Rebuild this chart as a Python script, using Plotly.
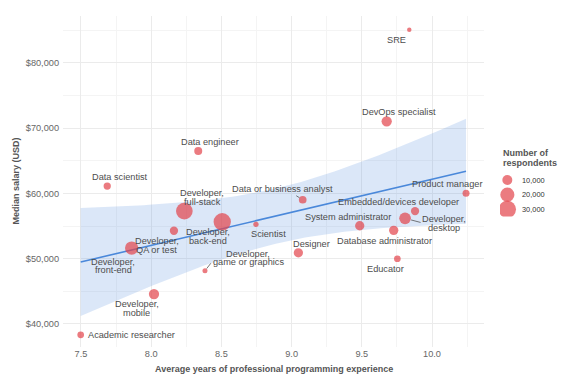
import numpy as np
import plotly.graph_objects as go

# ---------------- data ----------------
roles = ["SRE", "DevOps specialist", "Data engineer", "Data scientist",
         "Developer, full-stack", "Developer, back-end", "Developer, QA or test",
         "Developer, front-end", "Developer, game or graphics", "Developer, mobile",
         "Academic researcher", "Scientist", "Data or business analyst",
         "Product manager", "Embedded/devices developer", "Developer, desktop",
         "System administrator", "Database administrator", "Designer", "Educator"]
avg_years = [9.838, 9.677, 8.335, 7.687, 8.236, 8.506, 8.162, 7.861, 8.383, 8.020,
             7.498, 8.746, 9.079, 10.242, 9.879, 9.808, 9.485, 9.727, 9.048, 9.753]
median_salary = [85053, 71026, 66478, 61118, 57290, 55651, 54273, 51623, 48147, 44579,
                 38346, 55253, 59020, 60000, 57289, 56172, 55038, 54334, 50904, 49985]
respondents = [2000, 10600, 6400, 5300, 27900, 30000, 6900, 17700, 2500, 10600,
               4500, 2800, 5900, 4900, 6900, 13700, 8600, 8600, 8600, 4500]
legend_values = [10000, 20000, 30000]
legend_labels = ["10,000", "20,000", "30,000"]
x_ticks = [7.5, 8.0, 8.5, 9.0, 9.5, 10.0]
y_ticks = [40000, 50000, 60000, 70000, 80000]

# ---------------- label layout (pixel offsets, lines) ----------------
label_layout = {
    "SRE": (["SRE"], -12.6, -10),
    "DevOps specialist": (["DevOps specialist"], 12.3, 9.6),
    "Data engineer": (["Data engineer"], 11.7, 9.3),
    "Data scientist": (["Data scientist"], 12.7, 9.3),
    "Developer, full-stack": (["Developer,", "full-stack"], 17.7, 13.3),
    "Developer, back-end": (["Developer,", "back-end"], -14, -14.6),
    "Developer, QA or test": (["Developer,", "QA or test"], -17, -14.6),
    "Developer, front-end": (["Developer,", "front-end"], -18.4, -18),
    "Developer, game or graphics": (["Developer,", "game or graphics"], 43.5, 12.7),
    "Developer, mobile": (["Developer,", "mobile"], -17.3, -14.3),
    "Academic researcher": (["Academic researcher"], 50.8, 0),
    "Scientist": (["Scientist"], 12.3, -10),
    "Data or business analyst": (["Data or business analyst"], -19.9, 10.4),
    "Product manager": (["Product manager"], -19.3, 9.3),
    "Embedded/devices developer": (["Embedded/devices developer"], -16.7, 9),
    "Developer, desktop": (["Developer,", "desktop"], 39.3, -5),
    "System administrator": (["System administrator"], -12, 9),
    "Database administrator": (["Database administrator"], -9.4, -10.4),
    "Designer": (["Designer"], 12.7, 9),
    "Educator": (["Educator"], -12.3, -10),
}
# leader segments: (role, tail dx, tail dy (down positive), standoff)
leaders = [("Data or business analyst", -8, -5, 3.8),
           ("Developer, desktop", 17, 4.5, 6.2),
           ("Developer, game or graphics", 7, -9, 2.8)]

FONT = "Liberation Sans, Arial, Helvetica, sans-serif"
TXT = "#4d4d4d"
POINT = "#E2434A"
LINE = "#4A88DA"
SIZEREF = 200.0

x = np.array(avg_years)
y = np.array(median_salary, dtype=float)

# linear fit with 95% confidence band (as geom_smooth(method="lm"))
n = len(x)
slope, intercept = np.polyfit(x, y, 1)
resid = y - (slope * x + intercept)
s = np.sqrt(np.sum(resid ** 2) / (n - 2))
sxx = np.sum((x - x.mean()) ** 2)
t975 = 2.100922  # t quantile, df = 18
xs = np.linspace(x.min(), x.max(), 80)
fit = slope * xs + intercept
se = s * np.sqrt(1 / n + (xs - x.mean()) ** 2 / sxx)
upper = fit + t975 * se
lower = fit - t975 * se

fig = go.Figure()
fig.add_trace(go.Scatter(x=xs, y=upper, mode="lines", line=dict(width=0),
                         hoverinfo="skip", showlegend=False))
fig.add_trace(go.Scatter(x=xs, y=lower, mode="lines", line=dict(width=0),
                         fill="tonexty", fillcolor="rgba(74,136,218,0.2)",
                         hoverinfo="skip", showlegend=False))
fig.add_trace(go.Scatter(x=xs, y=fit, mode="lines", line=dict(color=LINE, width=1.6),
                         hoverinfo="skip", showlegend=False))
fig.add_trace(go.Scatter(x=avg_years, y=median_salary, mode="markers", text=roles,
                         marker=dict(size=respondents, sizemode="area", sizeref=SIZEREF,
                                     color=POINT, line=dict(width=0)),
                         showlegend=False))

# size legend drawn on its own small axes
fig.add_trace(go.Scatter(x=[0.099] * 3, y=[1, 2, 3], xaxis="x2", yaxis="y2",
                         mode="markers",
                         marker=dict(size=legend_values, sizemode="area", sizeref=SIZEREF,
                                     color=POINT, line=dict(width=0)),
                         hoverinfo="skip", showlegend=False))

annotations = []
LH = 8.7
for r, xv, yv in zip(roles, avg_years, median_salary):
    lines, dx, dy = label_layout[r]
    k = len(lines)
    for i, ln in enumerate(lines):
        off = dy + (k - 1) / 2 * LH - i * LH
        annotations.append(dict(x=xv, y=yv, xref="x", yref="y", text=ln, showarrow=False,
                                xanchor="center", yanchor="middle", xshift=dx, yshift=off,
                                font=dict(family=FONT, size=9.2, color=TXT)))
for r, ax, ay, so in leaders:
    i = roles.index(r)
    annotations.append(dict(x=avg_years[i], y=median_salary[i], xref="x", yref="y",
                            text="", showarrow=True, arrowhead=0, arrowwidth=0.8,
                            arrowcolor="#555555", ax=ax, ay=ay, standoff=so))
for i, lab in enumerate(legend_labels):
    annotations.append(dict(x=0.27, y=i + 1, xref="x2", yref="y2", text=lab,
                            showarrow=False, xanchor="left", yanchor="middle",
                            font=dict(family=FONT, size=7.4, color="#333333")))
for txt, yy in [("<b>Number of</b>", 0.586), ("<b>respondents</b>", 0.556)]:
    annotations.append(dict(x=0.857, y=yy, xref="paper", yref="paper", text=txt,
                            showarrow=False, xanchor="left", yanchor="middle",
                            font=dict(family=FONT, size=9, color="#555555")))
# axis titles
annotations.append(dict(x=0.412, y=-0.0665, xref="paper", yref="paper",
                        text="<b>Average years of professional programming experience</b>",
                        showarrow=False, xanchor="center", yanchor="middle",
                        font=dict(family=FONT, size=9, color="#555555")))
annotations.append(dict(x=-0.0939, y=0.5, xref="paper", yref="paper",
                        text="<b>Median salary (USD)</b>", textangle=-90,
                        showarrow=False, xanchor="center", yanchor="middle",
                        font=dict(family=FONT, size=9, color="#555555")))

grid_major = "#EBEBEB"
grid_minor = "#F4F4F4"
# page body has an 8px margin, so the figure is 8px smaller and margins shifted
fig.update_layout(
    width=566, height=381,
    margin=dict(l=55, r=0, t=8, b=42, autoexpand=False),
    paper_bgcolor="white", plot_bgcolor="white",
    font=dict(family=FONT, color=TXT),
    xaxis=dict(domain=[0, 421 / 511], range=[7.372, 10.37], tickvals=x_ticks,
               ticktext=[f"{v:.1f}" for v in x_ticks], ticks="", showline=False,
               zeroline=False, showgrid=True, gridcolor=grid_major, gridwidth=1,
               automargin=False,
               minor=dict(showgrid=True, gridcolor=grid_minor, dtick=0.25, tick0=7.25),
               tickfont=dict(family=FONT, size=9.2, color="#666666")),
    yaxis=dict(range=[36478, 87150], tickvals=y_ticks,
               ticktext=[f"${v:,.0f}" for v in y_ticks], ticks="", showline=False,
               zeroline=False, showgrid=True, gridcolor=grid_major, gridwidth=1,
               automargin=False,
               minor=dict(showgrid=True, gridcolor=grid_minor, dtick=5000, tick0=35000),
               tickfont=dict(family=FONT, size=9.2, color="#666666"),
               ticklabelstandoff=3),
    xaxis2=dict(domain=[0.8552, 1.0], range=[0, 1], anchor="y2", visible=False,
                fixedrange=True),
    yaxis2=dict(domain=[0.394, 0.5266], range=[3.5, 0.5], anchor="x2", visible=False,
                fixedrange=True),
    annotations=annotations,
    showlegend=False,
)

fig.write_html("out.html")
